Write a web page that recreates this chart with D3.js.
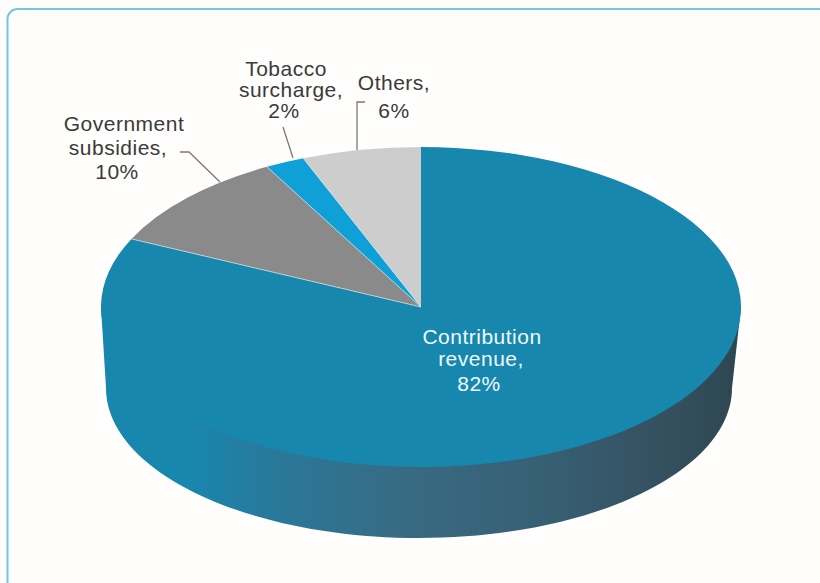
<!DOCTYPE html>
<html>
<head>
<meta charset="utf-8">
<script src="https://cdnjs.cloudflare.com/ajax/libs/d3/7.8.5/d3.min.js"></script>
<style>
html,body{margin:0;padding:0;background:#fffdfb;overflow:hidden}
text{font-family:"Liberation Sans",Arial,sans-serif;font-size:21px;letter-spacing:0.5px;text-anchor:middle}
</style>
</head>
<body>
<svg id="chart" width="820" height="583"></svg>
<script>
// Funding shares, clockwise from twelve o'clock
const categories = ["Contribution revenue", "Government subsidies", "Tobacco surcharge", "Others"];
const shares = [82, 10, 2, 6];
const sliceColors = ["#1887ae", "#8a8a8a", "#0ea0d6", "#cdcdcd"];

// Label text per slice, one entry per line
const labelLines = [
  ["Contribution", "revenue,", "82%"],
  ["Government", "subsidies,", "10%"],
  ["Tobacco", "surcharge,", "2%"],
  ["Others,", "6%"]
];
const labelColors = ["#eefafd", "#3a3a3a", "#3a3a3a", "#3a3a3a"];

const width = 820, height = 583;
const cx = 421, cy = 307, rx = 320, ry = 160;
const baseCx = 419, baseCy = 388, baseRx = 313, baseRy = 150;

const svg = d3.select("#chart");
const defs = svg.append("defs");

// Horizontal shading along the rim of the disc
const rimStops = [
  [0, "#1887ae"], [0.13, "#1887ae"], [0.3, "#2c7696"], [0.48, "#386a82"],
  [0.7, "#375f73"], [0.88, "#34505f"], [1, "#2e4651"]
];
defs.append("linearGradient").attr("id", "rim")
  .selectAll("stop").data(rimStops).join("stop")
  .attr("offset", d => d[0]).attr("stop-color", d => d[1]);

// Card outline, running off the right and bottom edges
svg.append("rect")
  .attr("x", 7.5).attr("y", 9).attr("width", width + 20).attr("height", height + 20)
  .attr("rx", 10)
  .attr("fill", "#fffefc").attr("stroke", "#73c6df").attr("stroke-width", 2);

// Rim: wall sides plus the lower half of the base ellipse
const rimPath = d3.path();
rimPath.moveTo(cx - rx, cy);
rimPath.lineTo(baseCx - baseRx, baseCy);
rimPath.bezierCurveTo(
  baseCx - baseRx, baseCy + baseRy * 0.5523,
  baseCx - baseRx * 0.5523, baseCy + baseRy,
  baseCx, baseCy + baseRy);
rimPath.bezierCurveTo(
  baseCx + baseRx * 0.5523, baseCy + baseRy,
  baseCx + baseRx, baseCy + baseRy * 0.5523,
  baseCx + baseRx, baseCy);
rimPath.lineTo(cx + rx, cy);
rimPath.closePath();
svg.append("path").attr("d", rimPath.toString()).attr("fill", "url(#rim)");

// Top face: a circular pie squashed into an ellipse
const pie = d3.pie().sort(null).value(d => d);
const arc = d3.arc().innerRadius(0).outerRadius(rx);
const pieSlices = pie(shares);
const face = svg.append("g")
  .attr("transform", `translate(${cx},${cy}) scale(1,${ry / rx})`);
face.selectAll("path").data(pieSlices).join("path")
  .attr("d", arc)
  .attr("fill", (d, i) => sliceColors[i]);

// Pale seams between neighbouring slices
face.selectAll("line").data(pieSlices.slice(1)).join("line")
  .attr("x1", 0).attr("y1", 0)
  .attr("x2", d => rx * Math.sin(d.startAngle))
  .attr("y2", d => -rx * Math.cos(d.startAngle))
  .attr("stroke", "#cfe6ee").attr("stroke-width", 0.7)
  .attr("vector-effect", "non-scaling-stroke");

// Leader lines from the labels to the outer slices
const leaders = [
  [[180, 152], [189, 152], [220, 182]],
  [[283, 127], [293, 158]],
  [[365, 102], [357, 102], [357, 150]]
];
const line = d3.line();
svg.append("g").selectAll("path").data(leaders).join("path")
  .attr("d", line).attr("fill", "none")
  .attr("stroke", "#7a7a7a").attr("stroke-width", 1.3);

// Multi-line slice labels, each line placed on its own centre
const labelAnchors = [
  { xs: [482, 481, 479], baselines: [344, 366, 391] },
  { xs: [124, 118, 117], baselines: [131, 155, 179] },
  { xs: [286, 291, 284], baselines: [76, 97, 118] },
  { xs: [394, 394], baselines: [90, 118] }
];
const labels = svg.append("g").selectAll("text").data(labelLines).join("text")
  .attr("fill", (d, i) => labelColors[i]);
labels.selectAll("tspan")
  .data((d, i) => d.map((t, j) => ({ t, x: labelAnchors[i].xs[j], y: labelAnchors[i].baselines[j] })))
  .join("tspan")
  .attr("x", d => d.x).attr("y", d => d.y).text(d => d.t);
</script>
</body>
</html>
